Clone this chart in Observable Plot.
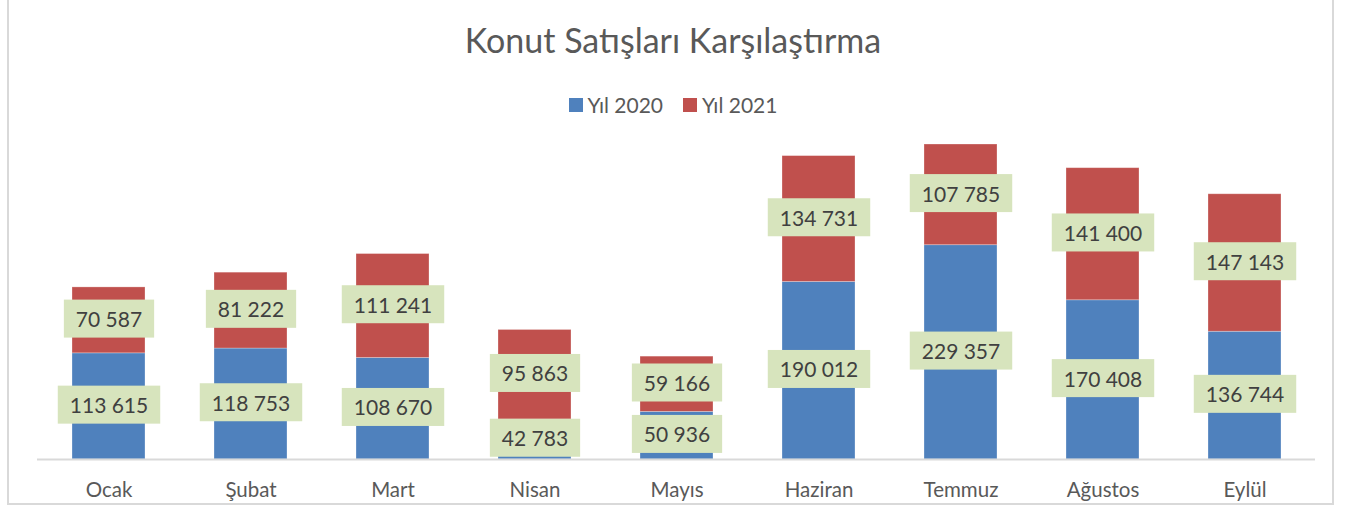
<!DOCTYPE html>
<html>
<head>
<meta charset="utf-8">
<script src="https://cdn.jsdelivr.net/npm/d3@7"></script>
<script src="https://cdn.jsdelivr.net/npm/@observablehq/plot@0.6"></script>
<style>
  html, body { margin: 0; padding: 0; background: #fff; }
  body { width: 1346px; height: 509px; position: relative; overflow: hidden; font-family: Lato, "Open Sans", sans-serif; }
  #frame { position: absolute; left: 7px; top: -2px; width: 1323px; height: 503px; border: 2px solid #d9d9d9; box-sizing: content-box; pointer-events: none; }
  #title { position: absolute; left: 0; top: 20px; width: 1346px; text-align: center; font-size: 34px; color: #595959; line-height: 40px; }
  #legend { position: absolute; left: 0; top: 93px; width: 1346px; display: flex; justify-content: center; font-size: 21px; color: #595959; line-height: 24px; }
  .li { display: flex; align-items: center; margin: 0 10px; }
  .sw { width: 14px; height: 14px; margin-right: 5px; }
  #chart { position: absolute; left: 0; top: 125px; }
</style>
</head>
<body>
<div id="title">Konut Satışları Karşılaştırma</div>
<div id="legend"></div>
<div id="chart"></div>
<div id="frame"></div>
<script>
const months = ["Ocak", "Şubat", "Mart", "Nisan", "Mayıs", "Haziran", "Temmuz", "Ağustos", "Eylül"];
const series = ["Yıl 2020", "Yıl 2021"];
const values2020 = [113615, 118753, 108670, 42783, 50936, 190012, 229357, 170408, 136744];
const values2021 = [70587, 81222, 111241, 95863, 59166, 134731, 107785, 141400, 147143];
const colors = ["#4F81BD", "#C0504D"];

const data = [];
months.forEach((m, i) => {
  data.push({month: m, series: series[0], value: values2020[i]});
  data.push({month: m, series: series[1], value: values2021[i]});
});

const fmt = v => d3.format(",")(v).replace(/,/g, " ");

// legend
const leg = document.getElementById("legend");
series.forEach((s, i) => {
  const d = document.createElement("div");
  d.className = "li";
  d.innerHTML = `<span class="sw" style="background:${colors[i]}"></span><span>${s}</span>`;
  leg.appendChild(d);
});

const stackOpts = {x: "month", y: "value", fill: "series", order: series};

const plot = Plot.plot({
  width: 1346,
  height: 384,
  marginLeft: 37,
  marginRight: 31,
  marginTop: 7,
  marginBottom: 50,
  style: {fontFamily: "Lato, 'Open Sans', sans-serif", background: "transparent"},
  x: {domain: months, paddingInner: 0.486, paddingOuter: 0.243, label: null, tickSize: 0, tickPadding: 23},
  y: {domain: [0, 350000], axis: null},
  color: {domain: series, range: colors},
  marks: [
    Plot.barY(data, Plot.stackY({...stackOpts, stroke: "#ffffff", strokeOpacity: 0.35, strokeWidth: 0.8})),
    Plot.ruleY([0], {stroke: "#d9d9d9", strokeWidth: 2}),
    Plot.text(data, Plot.stackY({x: "month", y: "value", z: "series", order: series, text: d => fmt(d.value), fill: "#404040", fontSize: 21, className: "vlabels"}))
  ]
});
plot.querySelectorAll('[aria-label="x-axis tick label"]').forEach(g => {
  g.setAttribute("font-size", 20.5);
  g.setAttribute("fill", "#595959");
});
plot.querySelectorAll('[aria-label="x-axis tick label"] text').forEach(t => {
  t.setAttribute("font-size", 20.5);
  t.setAttribute("fill", "#595959");
});
document.getElementById("chart").appendChild(plot);

// label boxes behind value labels
const tg = plot.querySelector("g.vlabels");
if (tg) {
  const texts = Array.from(tg.querySelectorAll("text"));
  texts.forEach(t => {
    const bb = t.getBBox();
    const ctm = t.getAttribute("transform");
    const r = document.createElementNS("http://www.w3.org/2000/svg", "rect");
    const padX = 12;
    const h = 38;
    r.setAttribute("x", bb.x - padX);
    r.setAttribute("y", bb.y + bb.height / 2 - h / 2);
    r.setAttribute("width", bb.width + 2 * padX);
    r.setAttribute("height", h);
    r.setAttribute("fill", "#D7E4BD");
    if (ctm) r.setAttribute("transform", ctm);
    tg.insertBefore(r, t);
  });
}
</script>
</body>
</html>
